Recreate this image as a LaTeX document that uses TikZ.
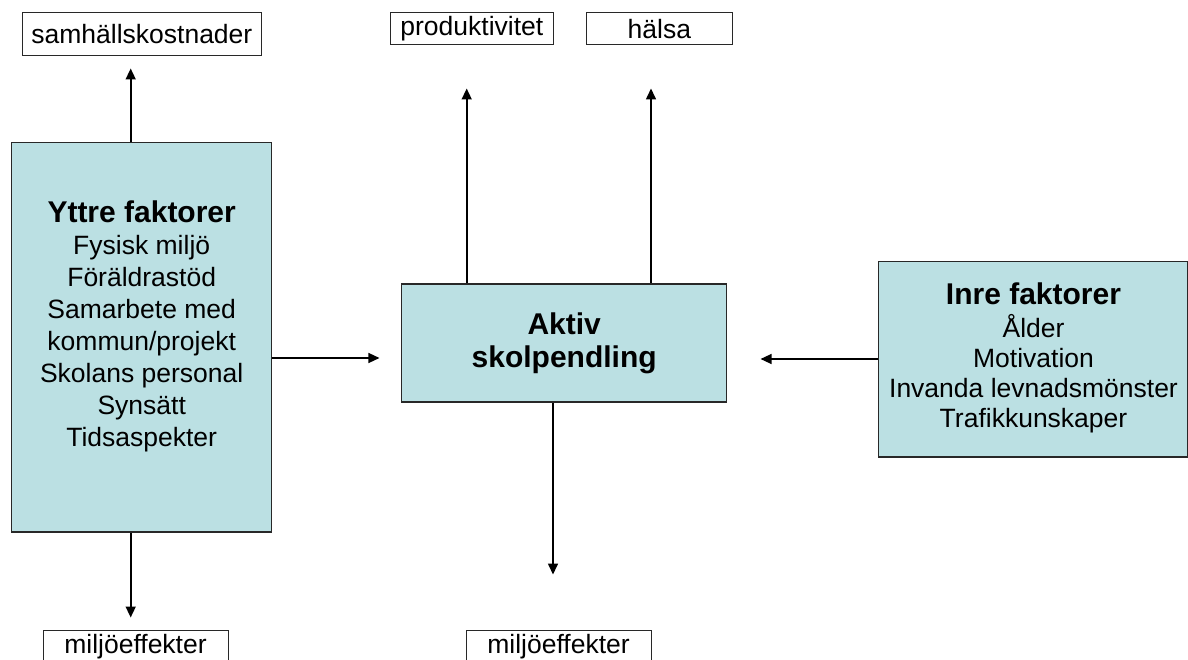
\documentclass[tikz,border=0pt]{standalone}
\usepackage{fontspec}
\setmainfont{Liberation Sans}
\usetikzlibrary{arrows.meta}
\definecolor{boxblue}{RGB}{187,224,227}
\definecolor{edge}{RGB}{40,40,40}
\tikzset{
  txt/.style={font=\fontsize{26.5}{30}\selectfont},
  smallbox/.style={draw=edge, line width=1pt, fill=white, inner sep=0pt, txt},
  bigbox/.style={draw=edge, line width=1.1pt, fill=boxblue, inner sep=0pt},
  arr/.style={line width=1.6pt, -{Triangle[length=11pt,width=10pt]}},
  titletxt/.style={font=\bfseries\fontsize{30}{33}\selectfont}
}
\begin{document}
\begin{tikzpicture}[x=1pt,y=-1pt]
\useasboundingbox (0,0) rectangle (1188,660);
% top / bottom label boxes
\node[smallbox, minimum width=238.3pt, minimum height=43.3pt] (samh) at (141.85,34.35) {samhällskostnader};
\node[smallbox, minimum width=162.3pt, minimum height=32.3pt] (prod) at (471.85,28.85) {produktivitet};
\node[smallbox, minimum width=146.7pt, minimum height=32.3pt] (halsa) at (659.35,28.85) {hälsa};
\node[smallbox, minimum width=185pt, minimum height=34pt] (milj1) at (135.5,647) {miljöeffekter};
\node[smallbox, minimum width=185pt, minimum height=34pt] (milj2) at (558.5,647) {miljöeffekter};
% main boxes
\node[bigbox, minimum width=260pt, minimum height=389.3pt] (yttre) at (141.7,337.35) {};
\node[align=center, txt, inner sep=0pt] (yttretext) at (141.7,326)
  {{\bfseries\fontsize{30}{33}\selectfont Yttre faktorer}\\[2pt]
   Fysisk miljö\\[2pt] Föräldrastöd\\[2pt] Samarbete med\\[2pt] kommun/projekt\\[2pt]
   Skolans personal\\[2pt] Synsätt\\[2pt] Tidsaspekter};
\node[bigbox, minimum width=325pt, minimum height=118pt, align=center, titletxt] (aktiv) at (564.2,343)
  {Aktiv\\ skolpendling};
\node[bigbox, minimum width=309pt, minimum height=195.3pt] (inre) at (1032.7,359.35) {};
\node[align=center, txt, inner sep=0pt] (inretext) at (1033.5,358)
  {{\bfseries\fontsize{30}{33}\selectfont Inre faktorer}\\[3pt]
   Ålder\\ Motivation\\ Invanda levnadsmönster\\ Trafikkunskaper};
% helper rows
\coordinate (hl) at (0,358);
\coordinate (hr) at (0,359);
% connectors
\draw[arr, shorten >=12pt] ([xshift=-11.15pt]yttre.north -| samh.south) -- ([xshift=-11.15pt]samh.south);
\draw[arr, shorten >=43pt] ([xshift=-5.15pt]prod.south |- aktiv.north) -- ([xshift=-5.15pt]prod.south);
\draw[arr, shorten >=43pt] ([xshift=-8.35pt]halsa.south |- aktiv.north) -- ([xshift=-8.35pt]halsa.south);
\draw[arr, line width=1.3pt, shorten >=21.7pt] (yttre.east |- hl) -- (aktiv.west |- hl);
\draw[arr, line width=1.3pt, shorten >=33.3pt] (inre.west |- hr) -- (aktiv.east |- hr);
\draw[arr, shorten >=12pt] ([xshift=-4.8pt]milj1.north |- yttre.south) -- ([xshift=-4.8pt]milj1.north);
\draw[arr, shorten >=55pt] ([xshift=-5.5pt]milj2.north |- aktiv.south) -- ([xshift=-5.5pt]milj2.north);
\end{tikzpicture}
\end{document}
